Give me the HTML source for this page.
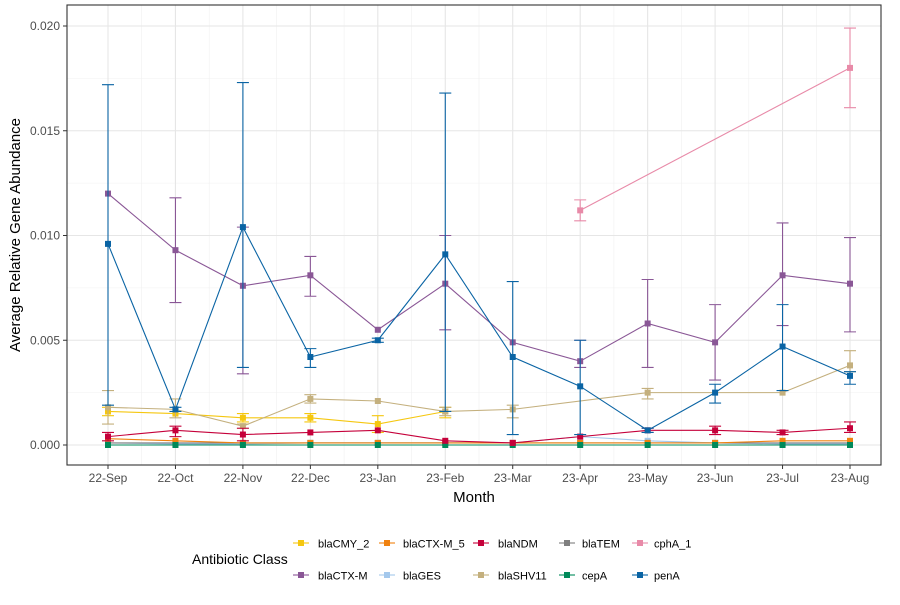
<!DOCTYPE html>
<html><head><meta charset="utf-8"><style>
body{margin:0;background:#fff;font-family:"Liberation Sans",Arial,sans-serif}
svg text{font-family:"Liberation Sans",Arial,sans-serif}
</style></head><body>
<svg id="c" width="900" height="600" xmlns="http://www.w3.org/2000/svg"></svg>
<script>
const months=["22-Sep","22-Oct","22-Nov","22-Dec","23-Jan","23-Feb","23-Mar","23-Apr","23-May","23-Jun","23-Jul","23-Aug"];
const yTicks=[0,0.005,0.010,0.015,0.020];
const yTickLabels=["0.000","0.005","0.010","0.015","0.020"];
const N=null;
const blaCMY_2=[0.0016,0.0015,0.0013,0.0013,0.0010,0.0016,N,N,N,N,N,N];
const blaCMY_2_lo=[0.0014,N,0.0011,0.0011,0.0006,0.0013,N,N,N,N,N,N];
const blaCMY_2_hi=[0.0018,N,0.0015,0.0015,0.0014,0.0018,N,N,N,N,N,N];
const blaCTX_M_5=[0.0003,0.0002,0.0001,0.0001,0.0001,0.0001,0.0001,0.0001,0.0001,0.0001,0.0002,0.0002];
const blaNDM=[0.0004,0.0007,0.0005,0.0006,0.0007,0.0002,0.0001,0.0004,0.0007,0.0007,0.0006,0.0008];
const blaNDM_lo=[0.0002,0.0004,0.0002,N,N,N,N,N,0.0006,0.0005,0.0005,0.0006];
const blaNDM_hi=[0.0006,0.0009,0.0008,N,N,N,N,N,0.0008,0.0009,0.0007,0.0011];
const blaTEM=[0.0001,0.0001,0.0001,0.0001,0.0001,0.0001,0.0001,0.0001,0.0001,0.0001,0.0001,0.0001];
const cphA_1=[N,N,N,N,N,N,N,0.0112,N,N,N,0.0180];
const cphA_1_lo=[N,N,N,N,N,N,N,0.0107,N,N,N,0.0161];
const cphA_1_hi=[N,N,N,N,N,N,N,0.0117,N,N,N,0.0199];
const blaCTX_M=[0.0120,0.0093,0.0076,0.0081,0.0055,0.0077,0.0049,0.0040,0.0058,0.0049,0.0081,0.0077];
const blaCTX_M_lo=[N,0.0068,0.0034,0.0071,N,0.0055,N,0.0037,0.0037,0.0031,0.0057,0.0054];
const blaCTX_M_hi=[N,0.0118,0.0104,0.0090,N,0.0100,N,0.0050,0.0079,0.0067,0.0106,0.0099];
const blaGES=[0.0001,0.00005,0.00005,0.0001,0.0001,0.0001,0.0001,0.0004,0.0002,0.0001,0.00005,0.00005];
const blaSHV11=[0.0018,0.0017,0.0009,0.0022,0.0021,0.0016,0.0017,N,0.0025,N,0.0025,0.0038];
const blaSHV11_lo=[0.0010,0.0013,0.0008,0.0020,N,0.0014,0.0013,N,0.0022,N,N,0.0035];
const blaSHV11_hi=[0.0026,0.0022,0.0010,0.0024,N,0.0018,0.0019,N,0.0027,N,N,0.0045];
const cepA=[0,0,0,0,0,0,0,0,0,0,0,0];
const penA=[0.0096,0.0017,0.0104,0.0042,0.0050,0.0091,0.0042,0.0028,0.0007,0.0025,0.0047,0.0033];
const penA_lo=[0.0019,0.0016,0.0037,0.0037,0.0049,0.0016,0.0005,0.0005,0.0006,0.0020,0.0026,0.0029];
const penA_hi=[0.0172,0.0018,0.0173,0.0046,0.0051,0.0168,0.0078,0.0050,0.0008,0.0029,0.0067,0.0035];

const series=[
 {name:"blaCMY_2",col:"#f5c710",v:blaCMY_2,lo:blaCMY_2_lo,hi:blaCMY_2_hi},
 {name:"blaCTX-M_5",col:"#f0820f",v:blaCTX_M_5},
 {name:"blaNDM",col:"#c5003a",v:blaNDM,lo:blaNDM_lo,hi:blaNDM_hi},
 {name:"blaTEM",col:"#7f7f7f",v:blaTEM},
 {name:"cphA_1",col:"#e88aa8",v:cphA_1,lo:cphA_1_lo,hi:cphA_1_hi},
 {name:"blaCTX-M",col:"#8a5796",v:blaCTX_M,lo:blaCTX_M_lo,hi:blaCTX_M_hi},
 {name:"blaGES",col:"#a4c8ec",v:blaGES},
 {name:"blaSHV11",col:"#c4b07e",v:blaSHV11,lo:blaSHV11_lo,hi:blaSHV11_hi},
 {name:"cepA",col:"#008a5a",v:cepA},
 {name:"penA",col:"#0a64a4",v:penA,lo:penA_lo,hi:penA_hi}
];
const drawOrder=[6,3,1,8,0,7,2,4,5,9];
const svg=document.getElementById('c');
const NS="http://www.w3.org/2000/svg";
function mk(t,a,p){const e=document.createElementNS(NS,t);for(const k in a)e.setAttribute(k,a[k]);(p||svg).appendChild(e);return e;}
const L=67,R=881,T=5,B=465;
const x=i=>108+i*(850-108)/11;
const y=v=>445-v*(445-26)/0.02;

const panel=mk('rect',{x:L,y:T,width:R-L,height:B-T,fill:'#fff'});


for(let i=0;i<yTicks.length-1;i++){mk('line',{x1:L,x2:R,y1:y((yTicks[i]+yTicks[i+1])/2),y2:y((yTicks[i]+yTicks[i+1])/2),stroke:'#f0f0f0','stroke-width':0.6});}
for(let i=0;i<months.length-1;i++){mk('line',{x1:(x(i)+x(i+1))/2,x2:(x(i)+x(i+1))/2,y1:T,y2:B,stroke:'#f0f0f0','stroke-width':0.6});}
yTicks.forEach((t,i)=>{
 mk('line',{x1:L,x2:R,y1:y(t),y2:y(t),stroke:'#e6e6e6','stroke-width':1.1});
 mk('line',{x1:L-4,x2:L,y1:y(t),y2:y(t),stroke:'#333','stroke-width':1});
 const tx=mk('text',{x:L-7,y:y(t)+4,'text-anchor':'end','font-size':12,fill:'#4d4d4d'});
 tx.textContent=yTickLabels[i];
 
 
});
months.forEach((m,i)=>{
 mk('line',{x1:x(i),x2:x(i),y1:T,y2:B,stroke:'#e6e6e6','stroke-width':1.1});
 mk('line',{x1:x(i),x2:x(i),y1:B,y2:B+4,stroke:'#333','stroke-width':1});
 const tx=mk('text',{x:x(i),y:B+17,'text-anchor':'middle','font-size':12,fill:'#4d4d4d'});
 tx.textContent=m;
 
 
});
drawOrder.forEach(si=>{
 const s=series[si];
 const g=mk('g',{});
 
 
 const pts=[];s.v.forEach((v,i)=>{if(v!==null)pts.push([x(i),y(v)]);});
 if(pts.length>1)mk('polyline',{points:pts.map(p=>p.join(',')).join(' '),fill:'none',stroke:s.col,'stroke-width':1.1},g);
 if(s.lo)s.v.forEach((v,i)=>{if(s.lo[i]===null||v===null)return;
  const eb=mk('path',{d:`M${x(i)-6},${y(s.hi[i])}H${x(i)+6}M${x(i)},${y(s.hi[i])}V${y(s.lo[i])}M${x(i)-6},${y(s.lo[i])}H${x(i)+6}`,stroke:s.col,'stroke-width':1.1,fill:'none'},g);
  
  });
 s.v.forEach((v,i)=>{if(v===null)return;
  const r=mk('rect',{x:x(i)-3,y:y(v)-3,width:6,height:6,fill:s.col},g);
  
  });
});
mk('rect',{x:L,y:T,width:R-L,height:B-T,fill:'none',stroke:'#333','stroke-width':1.1});
const xt=mk('text',{x:(L+R)/2,y:502,'text-anchor':'middle','font-size':15,fill:'#000'});xt.textContent='Month';


const yt=mk('text',{x:0,y:0,'text-anchor':'middle','font-size':15,fill:'#000',transform:`translate(20,${(T+B)/2}) rotate(-90)`});yt.textContent='Average Relative Gene Abundance';


const lt=mk('text',{x:192,y:564,'font-size':14,fill:'#000'});lt.textContent='Antibiotic Class';


const kx=[301,387,481,567,640],tx0=[318,403,498,582,654],ry=[543,575];
series.forEach((s,i)=>{
 const r=Math.floor(i/5),c=i%5;
 const g=mk('g',{});
 
 
 mk('line',{x1:kx[c]-8,x2:kx[c]+8,y1:ry[r],y2:ry[r],stroke:s.col,'stroke-width':1.1},g);
 mk('rect',{x:kx[c]-3,y:ry[r]-3,width:6,height:6,fill:s.col},g);
 const t=mk('text',{x:tx0[c],y:ry[r]+4.5,'font-size':11,fill:'#000'},g);t.textContent=s.name;
});
</script>
</body></html>
